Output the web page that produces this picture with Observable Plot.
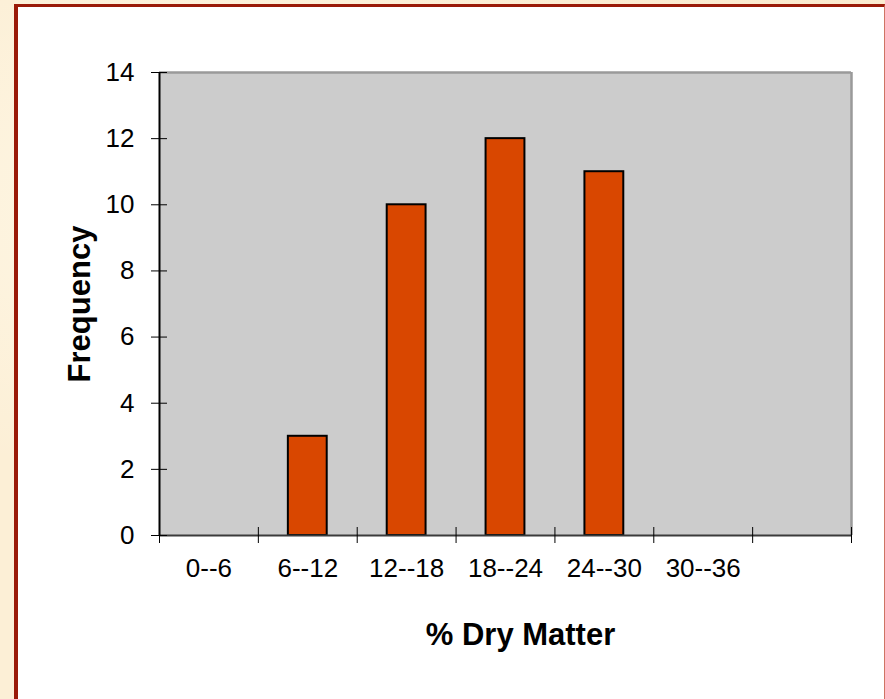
<!DOCTYPE html>
<html>
<head>
<meta charset="utf-8">
<script src="https://cdn.jsdelivr.net/npm/d3@7"></script>
<script src="https://cdn.jsdelivr.net/npm/@observablehq/plot@0.6"></script>
<style>
  html, body { margin: 0; padding: 0; }
  #page {
    position: relative; width: 885px; height: 699px; overflow: hidden;
    background-color: #fcefd6;
    background-image:
      radial-gradient(ellipse at 20% 30%, rgba(255,250,235,0.7), rgba(255,250,235,0) 40%),
      radial-gradient(ellipse at 70% 80%, rgba(245,225,190,0.5), rgba(245,225,190,0) 45%),
      radial-gradient(ellipse at 90% 10%, rgba(248,230,200,0.6), rgba(248,230,200,0) 35%);
  }
  #box {
    position: absolute; left: 14px; top: 4px; width: 866px; height: 800px;
    background: #ffffff;
    border-left: 4px solid #9a1a08;
    border-top: 3.5px solid #9a1a08;
    border-right: 1.5px solid #cf7464;
    box-sizing: content-box;
  }
  #chart { position: absolute; left: 0; top: 0; }
</style>
</head>
<body>
<div id="page"><div id="box"></div><div id="chart"></div></div>
<script>
const categories = ["0--6", "6--12", "12--18", "18--24", "24--30", "30--36", ""];
const frequencies = [0, 3, 10, 12, 11, 0, 0];
const yTicks = [0, 2, 4, 6, 8, 10, 12, 14];

const data = categories.map((c, i) => ({c, i, f: frequencies[i]})).filter(d => d.f > 0);
const font = "'Liberation Sans', Arial, Helvetica, sans-serif";

const chart = Plot.plot({
  width: 885,
  height: 699,
  marginLeft: 159,
  marginRight: 34,
  marginTop: 72,
  marginBottom: 164,
  style: {background: "transparent", fontFamily: font, fontSize: "26px", color: "black"},
  x: {domain: [0, categories.length], axis: null},
  y: {domain: [0, 14], axis: null},
  marks: [
    Plot.frame({fill: "#cccccc", stroke: null}),
    Plot.ruleY([14], {stroke: "#9a9a9a", strokeWidth: 2.5}),
    Plot.ruleX([categories.length], {stroke: "#9a9a9a", strokeWidth: 2.5}),
    Plot.rectY(data, {x1: "i", x2: d => d.i + 1, y: "f", insetLeft: 30, insetRight: 30,
      fill: "#d94700", stroke: "black", strokeWidth: 2}),
    Plot.ruleY([0], {stroke: "#3a3a3a", strokeWidth: 2}),
    Plot.ruleX([0], {stroke: "black", strokeWidth: 2}),
    Plot.axisY({ticks: yTicks, tickSize: 16, dx: 8, tickPadding: 17, label: null,
      fontSize: 26, tickFormat: d => String(d)}),
    Plot.axisX({ticks: d3.range(categories.length + 1), tickSize: 16, dy: -8,
      tickFormat: () => "", label: null}),
    Plot.axisX({ticks: categories.map((c, i) => i + 0.5), tickSize: 0, tickPadding: 23,
      tickFormat: v => categories[Math.floor(v)], label: null, fontSize: 26}),
    Plot.text(["Frequency"], {text: d => d, frameAnchor: "left", textAnchor: "middle",
      lineAnchor: "middle", rotate: -90, dx: -79, fontWeight: "bold", fontSize: 31}),
    Plot.text(["% Dry Matter"], {text: d => d, frameAnchor: "bottom", textAnchor: "middle",
      lineAnchor: "middle", dx: 15, dy: 100, fontWeight: "bold", fontSize: 31})
  ]
});
document.getElementById("chart").appendChild(chart);
</script>
</body>
</html>
